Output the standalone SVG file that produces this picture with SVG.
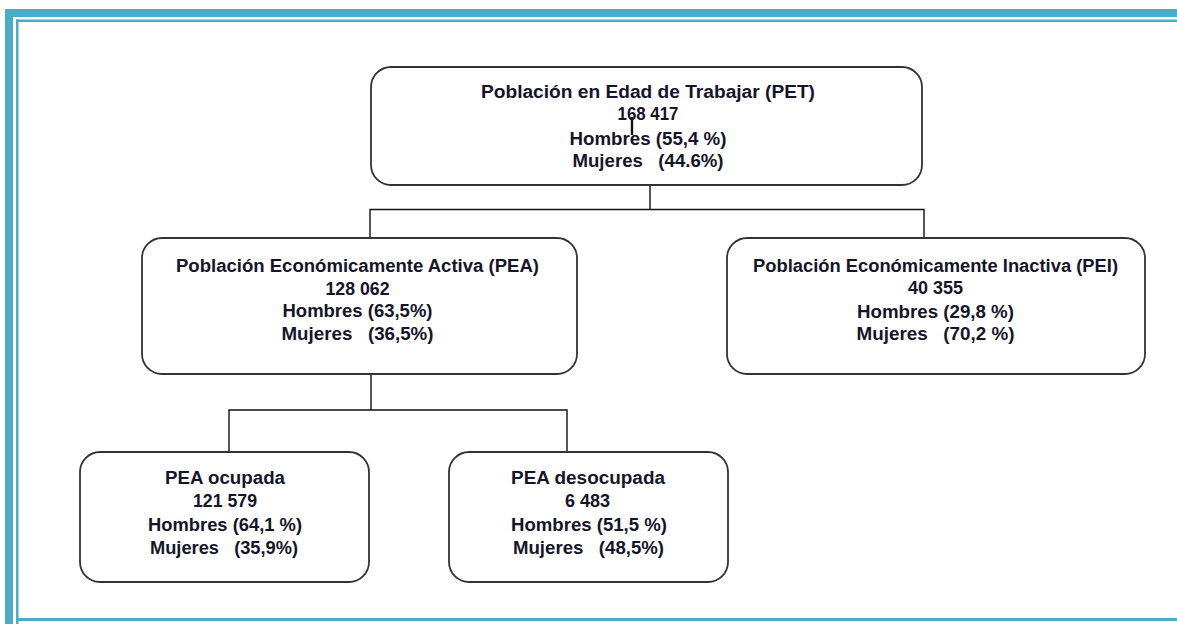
<svg xmlns="http://www.w3.org/2000/svg" width="1177" height="624" viewBox="0 0 1177 624">
<style>
.box{fill:#ffffff;stroke:#333333;stroke-width:1.8}
.conn{fill:none;stroke:#111111;stroke-width:1.4}
.frame{fill:#4bacc6}
text{font-family:"Liberation Sans",Arial,sans-serif;font-weight:bold;font-size:18px;fill:#15152a;text-anchor:middle;white-space:pre}
</style>
<rect x="0" y="0" width="1177" height="624" fill="#ffffff"/>
<g id="frame">
<rect class="frame" x="5" y="9" width="1172" height="8"/>
<rect class="frame" x="5" y="9" width="8" height="615"/>
<rect class="frame" x="16" y="19.5" width="1161" height="2.5"/>
<rect class="frame" x="16" y="19.5" width="2.5" height="604.5"/>
<rect class="frame" x="16" y="618" width="1161" height="3"/>
</g>
<g id="connectors">
<path class="conn" d="M650 185V209.5M370 238V209.5H924V238"/>
<path class="conn" d="M371 374V410M229 452V410H567V452"/>
</g>
<g id="pet">
<rect class="box" x="371" y="67" width="551" height="118" rx="20"/>
<text x="648" y="98" textLength="334" lengthAdjust="spacingAndGlyphs">Población en Edad de Trabajar (PET)</text>
<text x="648" y="120" textLength="61" lengthAdjust="spacingAndGlyphs">168 417</text>
<text x="648" y="145" textLength="157" lengthAdjust="spacingAndGlyphs">Hombres (55,4 %)</text>
<text x="648" y="167" textLength="151" lengthAdjust="spacingAndGlyphs">Mujeres   (44.6%)</text>
<path d="M632 117V135" stroke="#111111" stroke-width="2.4"/>
</g>
<g id="pea">
<rect class="box" x="142" y="238" width="435" height="136" rx="20"/>
<text x="357.5" y="272" textLength="363" lengthAdjust="spacingAndGlyphs">Población Económicamente Activa (PEA)</text>
<text x="357.5" y="295" textLength="64" lengthAdjust="spacingAndGlyphs">128 062</text>
<text x="357.5" y="317" textLength="150" lengthAdjust="spacingAndGlyphs">Hombres (63,5%)</text>
<text x="357.5" y="340" textLength="152" lengthAdjust="spacingAndGlyphs">Mujeres   (36,5%)</text>
</g>
<g id="pei">
<rect class="box" x="727" y="238" width="418" height="136" rx="20"/>
<text x="935.5" y="272" textLength="365" lengthAdjust="spacingAndGlyphs">Población Económicamente Inactiva (PEI)</text>
<text x="935.5" y="294" textLength="55" lengthAdjust="spacingAndGlyphs">40 355</text>
<text x="935.5" y="318" textLength="157" lengthAdjust="spacingAndGlyphs">Hombres (29,8 %)</text>
<text x="935.5" y="340" textLength="158" lengthAdjust="spacingAndGlyphs">Mujeres   (70,2 %)</text>
</g>
<g id="pea-ocupada">
<rect class="box" x="80" y="452" width="289" height="130" rx="20"/>
<text x="225" y="484" textLength="120" lengthAdjust="spacingAndGlyphs">PEA ocupada</text>
<text x="225" y="507" textLength="64" lengthAdjust="spacingAndGlyphs">121 579</text>
<text x="225" y="531" textLength="154" lengthAdjust="spacingAndGlyphs">Hombres (64,1 %)</text>
<text x="224" y="554" textLength="148" lengthAdjust="spacingAndGlyphs">Mujeres   (35,9%)</text>
</g>
<g id="pea-desocupada">
<rect class="box" x="449" y="452" width="279" height="130" rx="20"/>
<text x="588" y="484" textLength="154" lengthAdjust="spacingAndGlyphs">PEA desocupada</text>
<text x="587.5" y="507" textLength="45" lengthAdjust="spacingAndGlyphs">6 483</text>
<text x="589" y="531" textLength="156" lengthAdjust="spacingAndGlyphs">Hombres (51,5 %)</text>
<text x="588.5" y="554" textLength="151" lengthAdjust="spacingAndGlyphs">Mujeres   (48,5%)</text>
</g>
</svg>
